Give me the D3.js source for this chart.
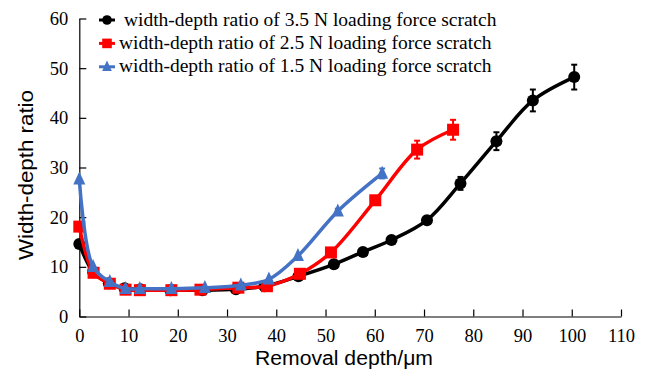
<!DOCTYPE html>
<html>
<head>
<meta charset="utf-8">
<script src="https://cdn.jsdelivr.net/npm/d3@7"></script>
<style>
  html, body { margin: 0; padding: 0; background: #fff; }
  svg { display: block; }
</style>
</head>
<body>
<svg id="chart" width="650" height="375"></svg>
<script>
// Removal depth (µm) and width-depth ratio for each loading force
const depth35 = [0, 2.8, 6.0, 9.2, 12.4, 18.5, 25.0, 31.8, 37.6, 44.5, 51.7, 57.6, 63.4, 70.6, 77.4, 84.7, 92.1, 100.5];
const ratio35 = [14.6, 9.0, 6.7, 5.7, 5.5, 5.3, 5.3, 5.5, 6.1, 8.1, 10.5, 13.0, 15.4, 19.4, 26.8, 35.3, 43.5, 48.2];
const err35   = [0, 0, 0, 0, 0, 0, 0, 0, 0, 0, 0, 0, 0, 0.5, 1.3, 1.8, 2.2, 2.5];

const depth25 = [0, 2.9, 6.2, 9.4, 12.3, 18.7, 24.6, 32.3, 38.1, 44.8, 51.1, 60.1, 68.6, 75.9];
const ratio25 = [18.1, 8.8, 6.6, 5.4, 5.3, 5.3, 5.4, 5.8, 6.1, 8.6, 12.9, 23.4, 33.6, 37.6];
const err25   = [0, 0, 0, 0, 0, 0, 0, 0, 0, 0, 0, 0.8, 1.8, 2.0];

const depth15 = [0, 2.8, 6.2, 9.4, 12.3, 18.7, 25.5, 32.8, 38.5, 44.4, 52.5, 61.5];
const ratio15 = [27.6, 10.0, 7.0, 5.6, 5.6, 5.6, 5.8, 6.3, 7.5, 12.2, 21.2, 28.8];
const err15   = [0, 0, 0, 0, 0, 0, 0, 0, 0, 0, 0.5, 1.0];

const xTicks = [0, 10, 20, 30, 40, 50, 60, 70, 80, 90, 100, 110];
const yTicks = [0, 10, 20, 30, 40, 50, 60];

const seriesNames = [
  " width-depth ratio of 3.5 N loading force scratch",
  "width-depth ratio of 2.5 N loading force scratch",
  "width-depth ratio of 1.5 N loading force scratch"
];

const series = [
  { name: seriesNames[0], x: depth35, y: ratio35, e: err35, color: "#000000", shape: "circle" },
  { name: seriesNames[1], x: depth25, y: ratio25, e: err25, color: "#ff0000", shape: "square" },
  { name: seriesNames[2], x: depth15, y: ratio15, e: err15, color: "#4472c4", shape: "triangle" }
];

const svg = d3.select("#chart");
const x = d3.scaleLinear().domain([0, 110]).range([79.3, 621]);
const y = d3.scaleLinear().domain([0, 60]).range([316.5, 18.5]);

const serif = "'Liberation Serif', 'Times New Roman', serif";
const sans = "'Liberation Sans', Arial, sans-serif";

// Axes: ticks point inward
const xAxis = svg.append("g").attr("transform", `translate(0,${y(0)})`)
  .call(d3.axisBottom(x).tickValues(xTicks).tickSizeInner(-7).tickSizeOuter(0).tickPadding(12));
const yAxis = svg.append("g").attr("transform", `translate(${x(0)},0)`)
  .call(d3.axisLeft(y).tickValues(yTicks).tickSizeInner(-7).tickSizeOuter(0).tickPadding(11));

[xAxis, yAxis].forEach(g => {
  g.select(".domain").attr("stroke", "#000").attr("stroke-width", 1.2);
  g.selectAll(".tick line").attr("stroke", "#000").attr("stroke-width", 1.2);
  g.selectAll(".tick text").attr("fill", "#000").style("font-family", serif).style("font-size", "18.5px");
});

// Axis titles
svg.append("text")
  .attr("x", 344).attr("y", 365)
  .attr("text-anchor", "middle")
  .style("font-family", sans).style("font-size", "20px")
  .attr("textLength", 178).attr("lengthAdjust", "spacingAndGlyphs")
  .text("Removal depth/μm");

svg.append("text")
  .attr("transform", "translate(33,175) rotate(-90)")
  .attr("text-anchor", "middle")
  .style("font-family", sans).style("font-size", "20px")
  .attr("textLength", 170).attr("lengthAdjust", "spacingAndGlyphs")
  .text("Width-depth ratio");

function drawMarker(g, shape, cx, cy, color, scale) {
  const s = scale || 1;
  if (shape === "circle") {
    g.append("circle").attr("cx", cx).attr("cy", cy).attr("r", 6 * s).attr("fill", color);
  } else if (shape === "square") {
    g.append("rect").attr("x", cx - 6 * s).attr("y", cy - 6 * s)
      .attr("width", 12 * s).attr("height", 12 * s).attr("fill", color);
  } else {
    const h = 13 * s, w = 12 * s;
    g.append("path")
      .attr("d", `M${cx},${cy - h * 0.6} L${cx + w / 2},${cy + h * 0.4} L${cx - w / 2},${cy + h * 0.4} Z`)
      .attr("fill", color);
  }
}

const line = d3.line().curve(d3.curveCatmullRom.alpha(0.5));

series.forEach(s => {
  const g = svg.append("g");
  const pts = s.x.map((d, i) => [x(d), y(s.y[i])]);
  g.append("path").attr("d", line(pts))
    .attr("fill", "none").attr("stroke", s.color).attr("stroke-width", 3.5)
    .attr("stroke-linejoin", "round");

  // Error bars
  s.x.forEach((d, i) => {
    if (!s.e[i]) return;
    const cx = x(d), y1 = y(s.y[i] - s.e[i]), y2 = y(s.y[i] + s.e[i]);
    g.append("line").attr("x1", cx).attr("x2", cx).attr("y1", y1).attr("y2", y2)
      .attr("stroke", s.color).attr("stroke-width", 2);
    [y1, y2].forEach(yy => g.append("line").attr("x1", cx - 3).attr("x2", cx + 3)
      .attr("y1", yy).attr("y2", yy).attr("stroke", s.color).attr("stroke-width", 2));
  });

  s.x.forEach((d, i) => drawMarker(g, s.shape, x(d), y(s.y[i]), s.color));
});

// Legend
const legend = svg.append("g");
series.forEach((s, i) => {
  const ly = 20 + i * 23.4;
  legend.append("line").attr("x1", 99).attr("x2", 115).attr("y1", ly).attr("y2", ly)
    .attr("stroke", s.color).attr("stroke-width", 3);
  drawMarker(legend, s.shape, 107, ly, s.color, 0.8);
  legend.append("text")
    .attr("x", 119).attr("y", ly + 5.5)
    .style("font-family", serif).style("font-size", "19.5px")
    .style("white-space", "pre")
    .attr("xml:space", "preserve")
    .text(s.name);
});
</script>
</body>
</html>
